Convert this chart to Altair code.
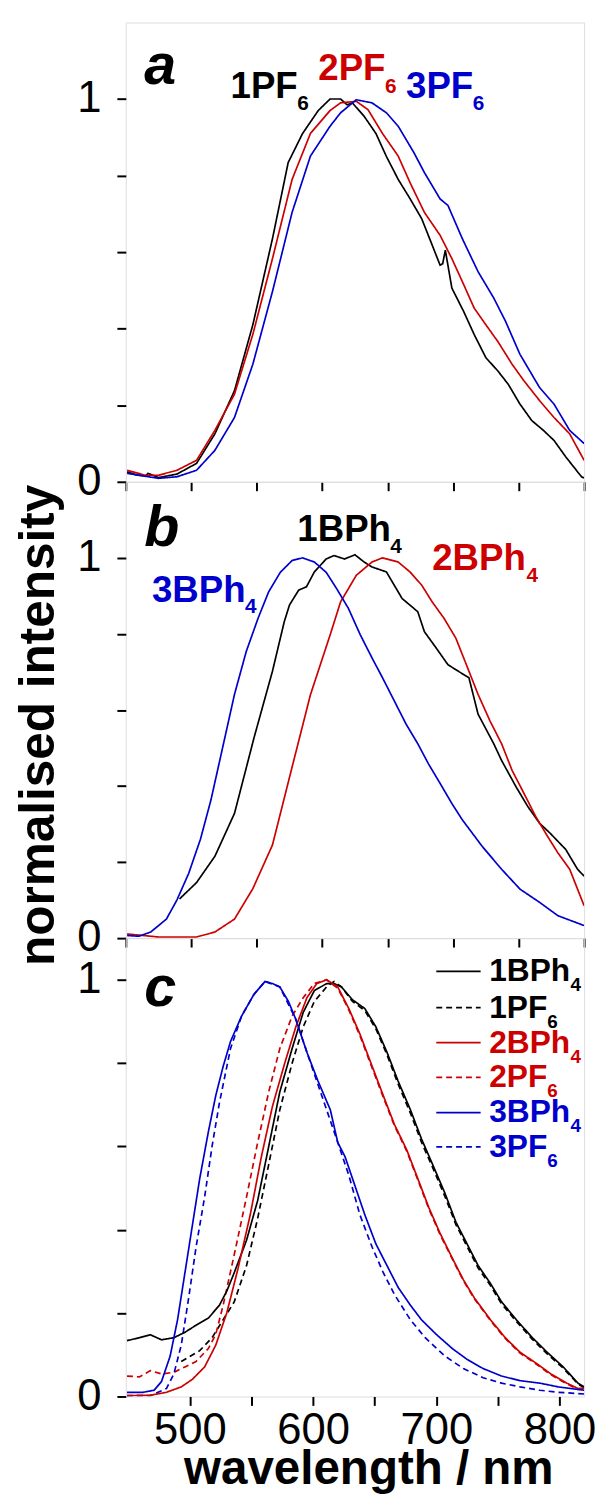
import altair as alt
import pandas as pd

BLACK = "#000000"
RED = "#cc0000"
BLUE = "#0000cc"
FONT = "Liberation Sans"

# ---------------- panel a (PF6 salts) ----------------
A_1PF6_WL = [451, 458, 465, 467, 475, 489, 504, 518, 533, 547, 562, 574, 585, 597, 606, 614, 619, 623, 632, 641,
             649, 658, 667, 676, 684, 690, 692, 694, 699, 708, 716, 725, 734, 742, 751, 760, 769, 777, 786, 792, 798, 800]
A_1PF6_I = [0.026, 0.018, 0.015, 0.022, 0.011, 0.020, 0.048, 0.125, 0.238, 0.410, 0.635, 0.834, 0.910, 0.970, 1.000,
            1.000, 0.985, 0.990, 0.955, 0.910, 0.850, 0.790, 0.740, 0.687, 0.618, 0.566, 0.570, 0.605, 0.506, 0.445,
            0.385, 0.324, 0.290, 0.255, 0.203, 0.160, 0.134, 0.108, 0.065, 0.039, 0.013, 0.010]
A_2PF6_WL = [451, 465, 475, 489, 504, 518, 533, 547, 562, 577, 591, 606, 614, 626, 635, 646, 658, 667, 678, 690,
             699, 707, 716, 725, 734, 745, 754, 766, 777, 789, 800]
A_2PF6_I = [0.030, 0.017, 0.017, 0.030, 0.056, 0.134, 0.229, 0.385, 0.583, 0.790, 0.910, 0.970, 0.990, 0.994, 0.972,
            0.910, 0.851, 0.782, 0.704, 0.644, 0.583, 0.523, 0.454, 0.410, 0.367, 0.307, 0.264, 0.212, 0.168, 0.125, 0.056]
A_3PF6_WL = [451, 475, 489, 504, 518, 533, 547, 562, 577, 591, 606, 614, 626, 638, 649, 658, 670, 678, 690, 696,
             707, 719, 731, 740, 751, 766, 777, 789, 800]
A_3PF6_I = [0.022, 0.009, 0.013, 0.030, 0.082, 0.168, 0.307, 0.497, 0.704, 0.851, 0.929, 0.964, 0.998, 0.990, 0.964,
            0.929, 0.860, 0.808, 0.739, 0.722, 0.635, 0.549, 0.480, 0.419, 0.333, 0.246, 0.203, 0.134, 0.100]

# ---------------- panel b (BPh4 salts) ----------------
B_1BPH4_WL = [491, 504, 518, 533, 548, 562, 571, 575, 582, 588, 594, 603, 609, 617, 625, 632, 638, 649, 655, 661,
              670, 673, 678, 687, 696, 708, 712, 719, 731, 737, 748, 757, 766, 774, 786, 795, 800]
B_1BPH4_I = [0.103, 0.146, 0.215, 0.328, 0.528, 0.702, 0.832, 0.876, 0.915, 0.924, 0.963, 0.997, 1.006, 0.997, 1.008,
             0.989, 0.976, 0.963, 0.928, 0.893, 0.867, 0.858, 0.806, 0.763, 0.719, 0.693, 0.685, 0.589, 0.511, 0.467,
             0.398, 0.346, 0.302, 0.276, 0.233, 0.181, 0.163]
B_2BPH4_WL = [451, 475, 504, 518, 533, 547, 562, 577, 591, 606, 614, 626, 638, 646, 658, 667, 676, 684, 693, 702,
              711, 719, 728, 737, 745, 754, 763, 772, 780, 789, 800]
B_2BPH4_I = [0.011, 0.003, 0.003, 0.016, 0.050, 0.130, 0.245, 0.450, 0.640, 0.797, 0.884, 0.954, 0.989, 1.000, 0.989,
             0.963, 0.928, 0.884, 0.841, 0.789, 0.711, 0.641, 0.572, 0.511, 0.441, 0.381, 0.320, 0.268, 0.224, 0.181, 0.085]
B_3BPH4_WL = [451, 460, 469, 481, 489, 498, 507, 515, 524, 533, 542, 551, 559, 568, 577, 585, 594, 603, 611, 620,
              629, 638, 646, 655, 664, 673, 681, 690, 699, 707, 722, 737, 751, 766, 780, 800]
B_3BPH4_I = [0.007, 0.005, 0.016, 0.050, 0.100, 0.170, 0.260, 0.363, 0.502, 0.641, 0.754, 0.841, 0.910, 0.962, 0.993,
             1.000, 0.989, 0.962, 0.919, 0.867, 0.798, 0.737, 0.685, 0.624, 0.563, 0.511, 0.459, 0.407, 0.354, 0.311,
             0.242, 0.181, 0.129, 0.094, 0.059, 0.033]

# ---------------- panel c (all six) ----------------
C_1BPH4_WL = [449, 459, 468, 477, 487, 496, 505, 515, 524, 530, 536, 546, 555, 564, 573, 583, 592, 601, 611, 617,
              623, 632, 642, 651, 660, 669, 679, 688, 697, 707, 716, 725, 734, 744, 753, 765, 778, 790, 803, 815, 820]
C_1BPH4_I = [0.134, 0.141, 0.148, 0.136, 0.141, 0.154, 0.171, 0.188, 0.219, 0.253, 0.297, 0.375, 0.470, 0.600, 0.731,
             0.835, 0.922, 0.974, 0.991, 0.991, 0.983, 0.952, 0.931, 0.887, 0.826, 0.757, 0.688, 0.618, 0.557, 0.488,
             0.418, 0.366, 0.314, 0.271, 0.227, 0.184, 0.141, 0.106, 0.071, 0.032, 0.023]
C_1PF6_WL = [493, 508, 518, 527, 536, 546, 555, 564, 573, 583, 592, 601, 611, 617, 623, 632, 642, 651, 660, 669,
             679, 688, 697, 707, 716, 725, 734, 744, 753, 765, 778, 790, 803, 815, 820]
C_1PF6_I = [0.084, 0.110, 0.141, 0.184, 0.227, 0.314, 0.427, 0.557, 0.688, 0.800, 0.887, 0.948, 0.983, 0.996, 0.983,
            0.948, 0.926, 0.882, 0.820, 0.750, 0.680, 0.610, 0.550, 0.480, 0.412, 0.360, 0.308, 0.266, 0.222, 0.180,
            0.137, 0.102, 0.068, 0.030, 0.021]
C_2BPH4_WL = [449, 468, 481, 493, 502, 512, 521, 530, 539, 549, 558, 567, 577, 586, 595, 603, 611, 620, 629, 638,
              648, 657, 666, 676, 685, 694, 703, 713, 722, 731, 744, 756, 768, 781, 793, 806, 815, 820]
C_2BPH4_I = [0.002, 0.003, 0.010, 0.023, 0.041, 0.071, 0.123, 0.201, 0.306, 0.436, 0.575, 0.696, 0.800, 0.887, 0.957,
             0.991, 1.000, 0.983, 0.931, 0.870, 0.792, 0.722, 0.653, 0.592, 0.523, 0.453, 0.392, 0.332, 0.280, 0.236,
             0.184, 0.141, 0.106, 0.080, 0.054, 0.032, 0.019, 0.020]
C_2PF6_WL = [449, 459, 468, 477, 487, 496, 505, 515, 521, 527, 536, 546, 555, 564, 573, 583, 592, 601, 611, 620,
             629, 638, 648, 657, 666, 676, 685, 694, 703, 713, 722, 731, 744, 756, 768, 781, 793, 806, 815, 820]
C_2PF6_I = [0.049, 0.047, 0.062, 0.054, 0.058, 0.071, 0.084, 0.115, 0.149, 0.219, 0.340, 0.479, 0.609, 0.731, 0.835,
            0.913, 0.957, 0.991, 1.000, 0.980, 0.928, 0.866, 0.788, 0.718, 0.650, 0.589, 0.520, 0.450, 0.389, 0.330,
            0.278, 0.234, 0.182, 0.139, 0.104, 0.078, 0.052, 0.030, 0.017, 0.018]
C_3BPH4_WL = [449, 462, 471, 477, 484, 490, 496, 502, 508, 515, 521, 527, 533, 542, 552, 561, 567, 573, 580, 586,
              595, 604, 614, 620, 626, 632, 642, 651, 660, 669, 679, 688, 700, 713, 725, 738, 753, 768, 784, 799, 820]
C_3BPH4_I = [0.010, 0.010, 0.015, 0.036, 0.097, 0.184, 0.297, 0.410, 0.523, 0.635, 0.722, 0.792, 0.852, 0.913, 0.965,
             0.996, 0.991, 0.983, 0.948, 0.905, 0.826, 0.757, 0.688, 0.610, 0.575, 0.523, 0.436, 0.366, 0.314, 0.262,
             0.219, 0.184, 0.149, 0.115, 0.089, 0.067, 0.049, 0.038, 0.032, 0.023, 0.015]
C_3PF6_WL = [449, 468, 481, 487, 493, 499, 505, 512, 518, 524, 533, 542, 552, 561, 573, 586, 598, 611, 620, 629,
             638, 648, 657, 666, 679, 691, 707, 722, 738, 753, 768, 784, 799, 820]
C_3PF6_I = [0.002, 0.002, 0.019, 0.054, 0.123, 0.236, 0.358, 0.479, 0.600, 0.705, 0.835, 0.913, 0.965, 0.996, 0.983,
            0.905, 0.800, 0.688, 0.610, 0.531, 0.436, 0.358, 0.297, 0.245, 0.184, 0.141, 0.097, 0.067, 0.045, 0.032,
            0.023, 0.015, 0.010, 0.006]

# ---------------- labels ----------------
A_LABELS = ["1PF", "2PF", "3PF"]
A_LABEL_WL = [530, 597, 664]
A_LABEL_I = [1.003, 1.050, 1.003]
A_SUBS = ["6", "6", "6"]
A_SUB_WL = [581, 648, 715]
A_SUB_I = [0.971, 1.017, 0.971]
A_COLORS = [BLACK, RED, BLUE]

B_LABELS = ["1BPh", "2BPh", "3BPh"]
B_LABEL_WL = [581, 684, 470]
B_LABEL_I = [1.043, 0.967, 0.884]
B_SUBS = ["4", "4", "4"]
B_SUB_WL = [652, 756, 541]
B_SUB_I = [1.013, 0.937, 0.854]
B_COLORS = [BLACK, RED, BLUE]

LEG_NAMES = ["1BPh", "1PF", "2BPh", "2PF", "3BPh", "3PF"]
LEG_SUBS = ["4", "6", "4", "6", "4", "6"]
LEG_COLORS = [BLACK, BLACK, RED, RED, BLUE, BLUE]
LEG_DASH = ["solid", "dashed", "solid", "dashed", "solid", "dashed"]
LEG_LINE_I = [1.020, 0.933, 0.849, 0.766, 0.681, 0.599]
LEG_TEXT_I = [0.996, 0.909, 0.825, 0.742, 0.658, 0.574]
LEG_SUB_I = [0.972, 0.885, 0.801, 0.718, 0.634, 0.550]
LEG_SUB_WL = [809, 790, 809, 790, 809, 790]
LEG_X0, LEG_X1, LEG_TEXT_WL = 700, 736, 743

PANEL_LETTERS = ["a", "b", "c"]
LETTER_WL = [464, 464, 463]
LETTER_I = [1.040, 1.030, 0.937]

X_AB = [450, 800]
X_C = [448, 820]
Y_AB = [0, 1.2]
Y_C = [0, 1.1]

DASH_RANGE = [[1, 0], [6, 4]]


def lines_df(series):
    rows = []
    for name, wl, inten, color, dash in series:
        for w, v in zip(wl, inten):
            rows.append(dict(series=name, wl=w, val=v, color=color, dash=dash))
    return pd.DataFrame(rows)


def text_df(texts, wls, vals, colors):
    return pd.DataFrame(dict(text=texts, wl=wls, val=vals, color=colors))


def make_panel(df, xdom, ydom, xticks, width, height, letter_idx, texts, subs, legend=None,
               xlabels=False, ytitle=False, main_size=37, sub_size=21):
    xaxis_kw = dict(values=xticks, tickSize=9, tickWidth=2, tickColor=BLACK, domain=False, grid=False,
                    labelFontSize=44, labelFont=FONT, labelColor=BLACK, labelFlush=False, labelPadding=4,
                    labelOverlap=False)
    if xlabels:
        xaxis_kw.update(labelExpr="datum.value % 100 == 0 ? datum.label : ''", title="wavelength / nm",
                        titleFontSize=48, titleFont=FONT, titleFontWeight="bold", titleColor=BLACK,
                        titleX=245, titleY=88, titleBaseline="alphabetic", titleAlign="center")
    else:
        xaxis_kw.update(labels=False, title=None)
    yaxis_kw = dict(values=[0, 0.2, 0.4, 0.6, 0.8, 1.0], tickSize=9, tickWidth=2, tickColor=BLACK, domain=False,
                    grid=False, labelFontSize=44, labelFont=FONT, labelColor=BLACK, labelPadding=16,
                    labelOverlap=False, labelExpr="datum.value == 0 ? '0' : (datum.value == 1 ? '1' : '')")
    if ytitle:
        yaxis_kw.update(title="normalised intensity", titleFontSize=50, titleFont=FONT, titleFontWeight="bold",
                        titleColor=BLACK, titleX=-73, titleY=height / 2 + 15, titleBaseline="alphabetic",
                        titleAlign="center", titleAngle=270)
    else:
        yaxis_kw.update(title=None)

    xs = alt.Scale(domain=xdom, nice=False, zero=False)
    ys = alt.Scale(domain=ydom, nice=False, zero=False)
    base = alt.Chart(df)
    lines = base.mark_line(strokeWidth=1.7, clip=True).encode(
        x=alt.X("wl:Q", scale=xs, axis=alt.Axis(**xaxis_kw)),
        y=alt.Y("val:Q", scale=ys, axis=alt.Axis(**yaxis_kw)),
        color=alt.Color("color:N", scale=None),
        strokeDash=alt.StrokeDash("dash:N", scale=alt.Scale(domain=["solid", "dashed"], range=DASH_RANGE),
                                  legend=None),
        detail="series:N",
        order="wl:Q",
    )
    layers = [lines]
    if legend is not None:
        leg_lines, leg_text, leg_sub = legend
        layers.append(alt.Chart(leg_lines).mark_rule(strokeWidth=1.8).encode(
            x=alt.X("x0:Q", scale=xs), x2="x1:Q", y=alt.Y("val:Q", scale=ys),
            color=alt.Color("color:N", scale=None),
            strokeDash=alt.StrokeDash("dash:N", scale=alt.Scale(domain=["solid", "dashed"], range=DASH_RANGE),
                                      legend=None)))
        layers.append(alt.Chart(leg_text).mark_text(align="left", baseline="alphabetic", font=FONT,
                                                    fontWeight="bold", fontSize=32).encode(
            x=alt.X("wl:Q", scale=xs), y=alt.Y("val:Q", scale=ys), text="text:N",
            color=alt.Color("color:N", scale=None)))
        layers.append(alt.Chart(leg_sub).mark_text(align="left", baseline="alphabetic", font=FONT,
                                                   fontWeight="bold", fontSize=19).encode(
            x=alt.X("wl:Q", scale=xs), y=alt.Y("val:Q", scale=ys), text="text:N",
            color=alt.Color("color:N", scale=None)))
    if texts is not None:
        layers.append(alt.Chart(texts).mark_text(align="left", baseline="alphabetic", font=FONT,
                                                 fontWeight="bold", fontSize=main_size).encode(
            x=alt.X("wl:Q", scale=xs), y=alt.Y("val:Q", scale=ys), text="text:N",
            color=alt.Color("color:N", scale=None)))
        layers.append(alt.Chart(subs).mark_text(align="left", baseline="alphabetic", font=FONT,
                                                fontWeight="bold", fontSize=sub_size).encode(
            x=alt.X("wl:Q", scale=xs), y=alt.Y("val:Q", scale=ys), text="text:N",
            color=alt.Color("color:N", scale=None)))
    letter = text_df([PANEL_LETTERS[letter_idx]], [LETTER_WL[letter_idx]], [LETTER_I[letter_idx]], [BLACK])
    layers.append(alt.Chart(letter).mark_text(align="left", baseline="alphabetic", font=FONT,
                                              fontWeight="bold", fontStyle="italic", fontSize=58).encode(
        x=alt.X("wl:Q", scale=xs), y=alt.Y("val:Q", scale=ys), text="text:N",
        color=alt.Color("color:N", scale=None)))
    return alt.layer(*layers).properties(width=width, height=height)


df_a = lines_df([
    ("1PF6", A_1PF6_WL, A_1PF6_I, BLACK, "solid"),
    ("2PF6", A_2PF6_WL, A_2PF6_I, RED, "solid"),
    ("3PF6", A_3PF6_WL, A_3PF6_I, BLUE, "solid"),
])
df_b = lines_df([
    ("1BPh4", B_1BPH4_WL, B_1BPH4_I, BLACK, "solid"),
    ("2BPh4", B_2BPH4_WL, B_2BPH4_I, RED, "solid"),
    ("3BPh4", B_3BPH4_WL, B_3BPH4_I, BLUE, "solid"),
])
df_c = lines_df([
    ("1PF6", C_1PF6_WL, C_1PF6_I, BLACK, "dashed"),
    ("2PF6", C_2PF6_WL, C_2PF6_I, RED, "dashed"),
    ("3PF6", C_3PF6_WL, C_3PF6_I, BLUE, "dashed"),
    ("1BPh4", C_1BPH4_WL, C_1BPH4_I, BLACK, "solid"),
    ("2BPh4", C_2BPH4_WL, C_2BPH4_I, RED, "solid"),
    ("3BPh4", C_3BPH4_WL, C_3BPH4_I, BLUE, "solid"),
])

leg_lines = pd.DataFrame(dict(x0=[LEG_X0] * 6, x1=[LEG_X1] * 6, val=LEG_LINE_I, color=LEG_COLORS, dash=LEG_DASH))
leg_text = text_df(LEG_NAMES, [LEG_TEXT_WL] * 6, LEG_TEXT_I, LEG_COLORS)
leg_sub = text_df(LEG_SUBS, LEG_SUB_WL, LEG_SUB_I, LEG_COLORS)

ticks_ab = [450, 500, 550, 600, 650, 700, 750, 800]
ticks_c = [500, 550, 600, 650, 700, 750, 800]

pa = make_panel(df_a, X_AB, Y_AB, ticks_ab, 463, 464, 0,
                text_df(A_LABELS, A_LABEL_WL, A_LABEL_I, A_COLORS),
                text_df(A_SUBS, A_SUB_WL, A_SUB_I, A_COLORS))
pb = make_panel(df_b, X_AB, Y_AB, ticks_ab, 463, 461, 1,
                text_df(B_LABELS, B_LABEL_WL, B_LABEL_I, B_COLORS),
                text_df(B_SUBS, B_SUB_WL, B_SUB_I, B_COLORS), ytitle=True)
pc = make_panel(df_c, X_C, Y_C, ticks_c, 463, 463, 2, None, None,
                legend=(leg_lines, leg_text, leg_sub), xlabels=True)

chart = alt.vconcat(pa, pb, pc, spacing=0, bounds="flush").properties(
    padding={"left": 5, "top": 6, "right": 0, "bottom": 0}
).configure_view(stroke=BLACK, strokeWidth=2.5).configure(font=FONT)

chart.save("out.html", embed_options={"renderer": "svg", "actions": False})
